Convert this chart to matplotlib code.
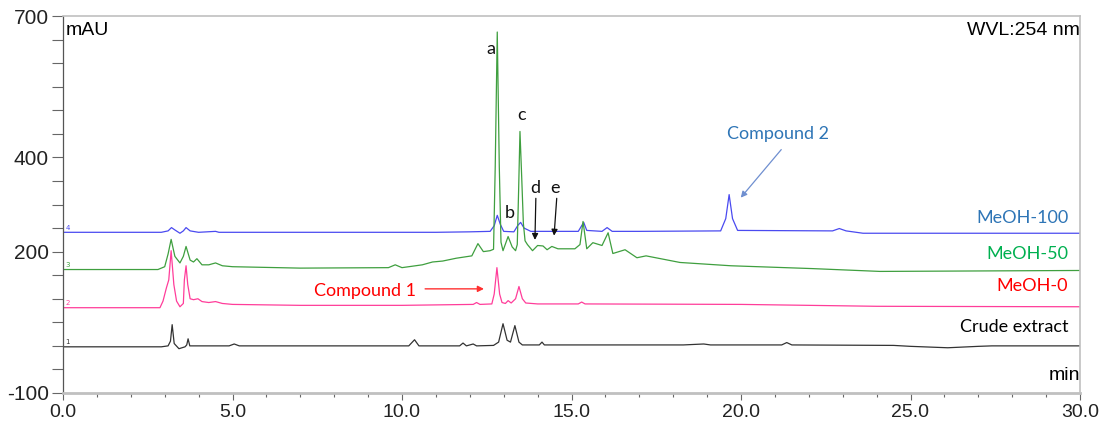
import matplotlib
matplotlib.use('Agg')
import matplotlib.pyplot as plt
from matplotlib.ticker import MultipleLocator, FixedLocator

plt.rcParams['axes.unicode_minus'] = False

# Chromatogram traces (time in min, signal in mAU)
t_meoh100 = [0, 2.9, 3.1, 3.2, 3.3, 3.45, 3.55, 3.63, 3.75, 4.0, 4.5, 4.6, 5.0, 8.0, 11.0, 12.0,
             12.6, 12.72, 12.81, 12.9, 13.0, 13.3, 13.42, 13.5, 13.6, 13.8, 14.5, 15.2, 15.3, 15.36,
             15.45, 15.9, 16.05, 16.2, 17.0, 19.4, 19.55, 19.65, 19.75, 19.9, 22.7, 22.9, 23.1, 23.6, 30]
v_meoh100 = [241, 241, 244, 251, 246, 239, 244, 251, 244, 241, 243, 241, 241, 241, 241, 242,
             243, 255, 277, 258, 243, 242, 256, 262, 250, 243, 243, 243, 255, 262,
             245, 243, 251, 243, 243, 244, 270, 321, 270, 245, 244, 249, 244, 239, 239]

t_meoh50 = [0, 2.8, 3.0, 3.1, 3.19, 3.3, 3.45, 3.55, 3.63, 3.75, 3.85, 3.95, 4.1, 4.3, 4.5, 4.7, 5.0,
            7.0, 9.6, 9.8, 10.0, 10.6, 10.9, 11.2, 11.6, 12.06, 12.24, 12.4, 12.6, 12.7, 12.75, 12.81,
            12.87, 12.92, 12.98, 13.13, 13.25, 13.35, 13.4, 13.44, 13.48, 13.53, 13.58, 13.63, 13.7,
            13.85, 14.0, 14.16, 14.28, 14.42, 14.6, 15.1, 15.25, 15.34, 15.45, 15.63, 15.9, 16.08,
            16.22, 16.58, 16.93, 17.2, 18.2, 19.7, 22.1, 24.1, 30]
v_meoh50 = [162, 162, 168, 195, 226, 190, 176, 190, 211, 182, 178, 185, 172, 172, 176, 170, 168,
            165, 166, 172, 166, 172, 178, 180, 186, 191, 217, 200, 202, 205, 380, 666,
            380, 220, 202, 232, 210, 202, 215, 330, 455, 360, 260, 223, 215,
            202, 213, 212, 204, 211, 206, 206, 215, 264, 206, 219, 213, 240,
            196, 204, 187, 191, 177, 170, 164, 158, 160]

t_meoh0 = [0, 2.86, 2.95, 3.05, 3.12, 3.19, 3.27, 3.35, 3.45, 3.55, 3.58, 3.63, 3.68, 3.75, 3.85,
           3.98, 4.1, 4.3, 4.5, 4.7, 5.0, 7.0, 10.0, 12.1, 12.2, 12.3, 12.65, 12.72, 12.8, 12.88,
           12.95, 13.05, 13.13, 13.22, 13.35, 13.45, 13.55, 13.65, 14.0, 15.2, 15.3, 15.4, 20, 24, 30]
v_meoh0 = [81, 81, 95, 123, 140, 202, 130, 95, 83, 90, 140, 170, 130, 100, 98,
           100, 94, 92, 94, 90, 88, 86, 86, 88, 92, 88, 89, 110, 166, 110,
           92, 90, 96, 91, 100, 126, 100, 91, 89, 89, 93, 89, 88, 84, 83]

t_crude = [0, 2.9, 3.1, 3.17, 3.22, 3.28, 3.42, 3.6, 3.65, 3.69, 3.74, 3.9, 4.9, 5.05, 5.2, 10.2,
           10.37, 10.5, 11.7, 11.8, 11.9, 12.1, 12.2, 12.7, 12.85, 12.98, 13.1, 13.2, 13.33, 13.45,
           13.55, 14.05, 14.13, 14.2, 18.3, 18.9, 19.1, 21.2, 21.35, 21.5, 24.5, 25.0, 26.1, 27.0,
           27.4, 30]
v_crude = [-2, -2, 0, 10, 45, 5, -6, -2, 2, 15, 0, 0, 0, 4, 0, 0,
           13, 0, 0, 6, 0, 4, 0, 1, 8, 47, 12, 8, 43, 8,
           2, 2, 8, 2, 2, 4, 2, 2, 7, 2, 1, -1, -4, -1,
           0, 0]

trace_names = ['MeOH-100', 'MeOH-50', 'MeOH-0', 'Crude extract']
trace_ids = ['4', '3', '2', '1']
line_colors = ['#4a4af0', '#3f9f3f', '#ff3d9a', '#333333']
label_colors = ['#2e75b6', '#00b050', '#ff0000', '#000000']
label_y = [272, 196, 128, 39]

fig = plt.figure(figsize=(11.01, 4.25), dpi=100)
ax = fig.add_axes([63 / 1101, 1 - 393 / 425, (1080 - 63) / 1101, (393 - 16) / 425])

series = [(t_meoh100, v_meoh100), (t_meoh50, v_meoh50), (t_meoh0, v_meoh0), (t_crude, v_crude)]
for (t, v), c, tid in zip(series, line_colors, trace_ids):
    ax.plot(t, v, color=c, lw=0.9)
    ax.text(0.08, v[0] + 3, tid, color=c, fontsize=5, va='bottom', ha='left')

for name, c, y in zip(trace_names, label_colors, label_y):
    ax.text(29.65, y, name, color=c, fontsize=13, ha='right', va='center', family='Lato')

# peak letters
for txt, x, y in [('a', 12.63, 631), ('b', 13.19, 281), ('c', 13.54, 489), ('d', 13.92, 336), ('e', 14.51, 334)]:
    ax.text(x, y, txt, fontsize=13, ha='center', va='center', family='Lato', color='#111111')
ax.annotate('', xy=(13.92, 219), xytext=(13.95, 319),
            arrowprops=dict(arrowstyle='-|>', color='#111111', lw=0.9, mutation_scale=9))
ax.annotate('', xy=(14.48, 228), xytext=(14.57, 319),
            arrowprops=dict(arrowstyle='-|>', color='#111111', lw=0.9, mutation_scale=9))

ax.text(10.4, 117, 'Compound 1', color='#ff0000', fontsize=13, ha='right', va='center', family='Lato')
ax.annotate('', xy=(12.5, 121), xytext=(10.6, 121),
            arrowprops=dict(arrowstyle='-|>', color='#ff3030', lw=1, mutation_scale=9))
ax.text(21.1, 450, 'Compound 2', color='#2e75b6', fontsize=13, ha='center', va='center', family='Lato')
ax.annotate('', xy=(19.94, 310), xytext=(21.24, 421),
            arrowprops=dict(arrowstyle='-|>', color='#6f8fd0', lw=0.9, mutation_scale=9))

ax.text(0.003, 0.985, 'mAU', transform=ax.transAxes, fontsize=14, ha='left', va='top', family='Liberation Sans')
ax.text(1.0, 0.985, 'WVL:254 nm', transform=ax.transAxes, fontsize=14, ha='right', va='top', family='Liberation Sans')
ax.text(1.0, 0.025, 'min', transform=ax.transAxes, fontsize=14, ha='right', va='bottom', family='Liberation Sans')

ax.set_xlim(0, 30)
ax.set_ylim(-100, 700)
ax.xaxis.set_major_locator(MultipleLocator(5))
ax.xaxis.set_minor_locator(MultipleLocator(1))
ax.xaxis.set_major_formatter(matplotlib.ticker.FormatStrFormatter('%.1f'))
ax.yaxis.set_major_locator(FixedLocator([-100, 200, 400, 700]))
ax.yaxis.set_minor_locator(MultipleLocator(50))

for lab in ax.get_xticklabels() + ax.get_yticklabels():
    lab.set_family('Liberation Sans')
ax.tick_params(axis='x', labelsize=14, colors='#222222')
ax.tick_params(axis='y', labelsize=15, colors='#222222')
ax.tick_params(axis='y', which='both', length=8, width=0.8, color='#666666', pad=2)
ax.tick_params(axis='x', which='major', length=5, width=0.8, color='#666666', pad=3)
ax.tick_params(axis='x', which='minor', length=3, width=0.8, color='#666666')

ax.spines['left'].set_color('#555555')
ax.spines['left'].set_linewidth(0.9)
ax.spines['bottom'].set_color('#c0c0c0')
ax.spines['bottom'].set_linewidth(2)
ax.spines['top'].set_color('#c0c0c0')
ax.spines['top'].set_linewidth(1.2)
ax.spines['right'].set_color('#c0c0c0')
ax.spines['right'].set_linewidth(1.2)

fig.savefig('out.png', dpi=100)
